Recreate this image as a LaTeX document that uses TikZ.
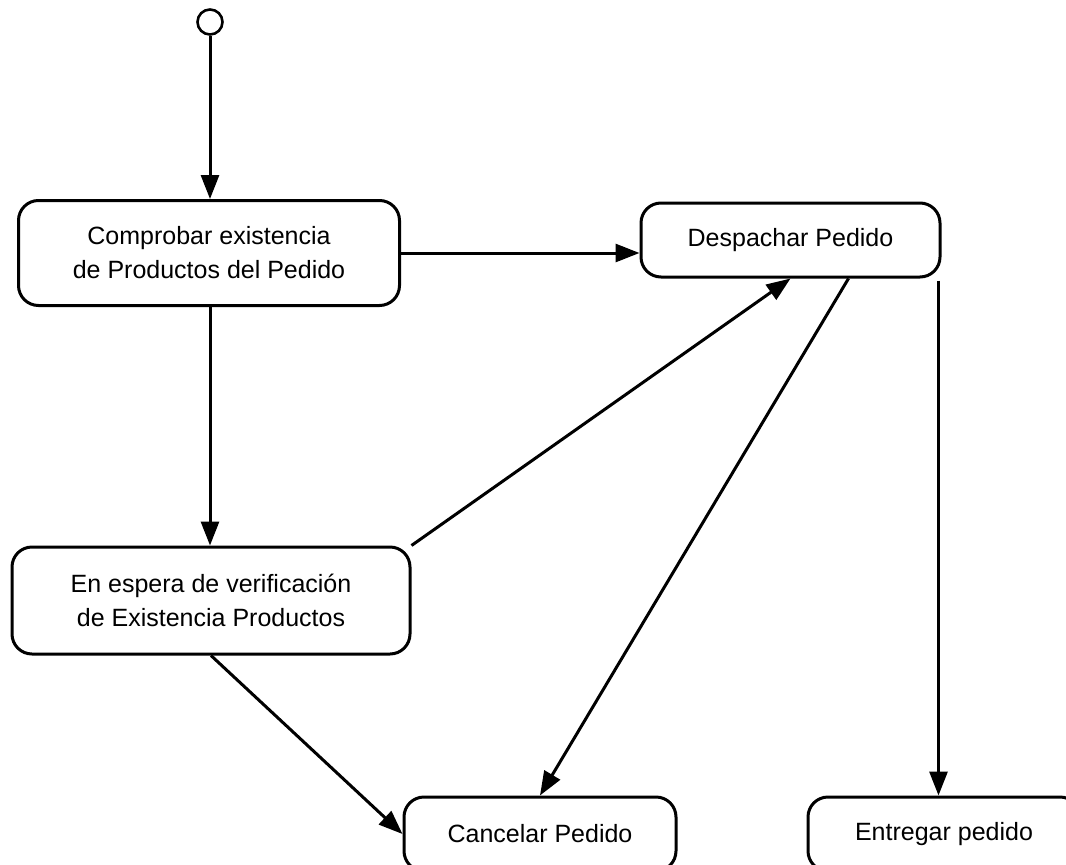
\documentclass[tikz,border=0pt]{standalone}
\usepackage{fontspec}
\setmainfont{Liberation Sans}
\usetikzlibrary{arrows.meta,calc}
\begin{document}
\begin{tikzpicture}[x=1pt,y=-1pt,
  state/.style={draw, line width=3pt, rounded corners=20pt, align=center,
    font=\fontsize{25}{34}\selectfont, inner sep=0pt},
  arr/.style={line width=3pt, -{Triangle[length=24pt,width=18pt]}},
  initst/.style={draw, circle, line width=2.6pt, minimum size=25pt, inner sep=0pt}
]
\useasboundingbox (0,0) rectangle (1066,865);
\clip (0,0) rectangle (1066,865);
\node[initst] (init) at (210,22) {};
\node[state, minimum width=381pt, minimum height=105pt] (b1) at (209,253) {Comprobar existencia\\de Productos del Pedido};
\node[state, minimum width=299pt, minimum height=74pt] (b2) at (790.5,240) {Despachar Pedido};
\node[state, minimum width=398pt, minimum height=107pt] (b3) at (211,600.5) {En espera de verificación\\de Existencia Productos};
\node[state, minimum width=272pt, minimum height=74pt] (b4) at (540,834) {Cancelar Pedido};
\node[state, minimum width=272pt, minimum height=74pt] (b5) at (944,834) {Entregar pedido};
\coordinate (b2a) at ([xshift=58pt]b2.south);
\coordinate (b2b) at ([xshift=-3pt,yshift=-2pt]b2.south east);
\draw[arr] (init.south) -- (init.south |- b1.north);
\draw[arr] (b1.east) -- (b1.east -| b2.west);
\draw[arr] (b1.south -| init) -- (init |- b3.north);
\draw[arr] (b3.north east) -- (b2.south);
\draw[arr] (b2a) -- (b4.north);
\draw[arr] (b2b) -- (b2b |- b5.north);
\draw[arr] (b3.south) -- (b4.west);
\end{tikzpicture}
\end{document}
